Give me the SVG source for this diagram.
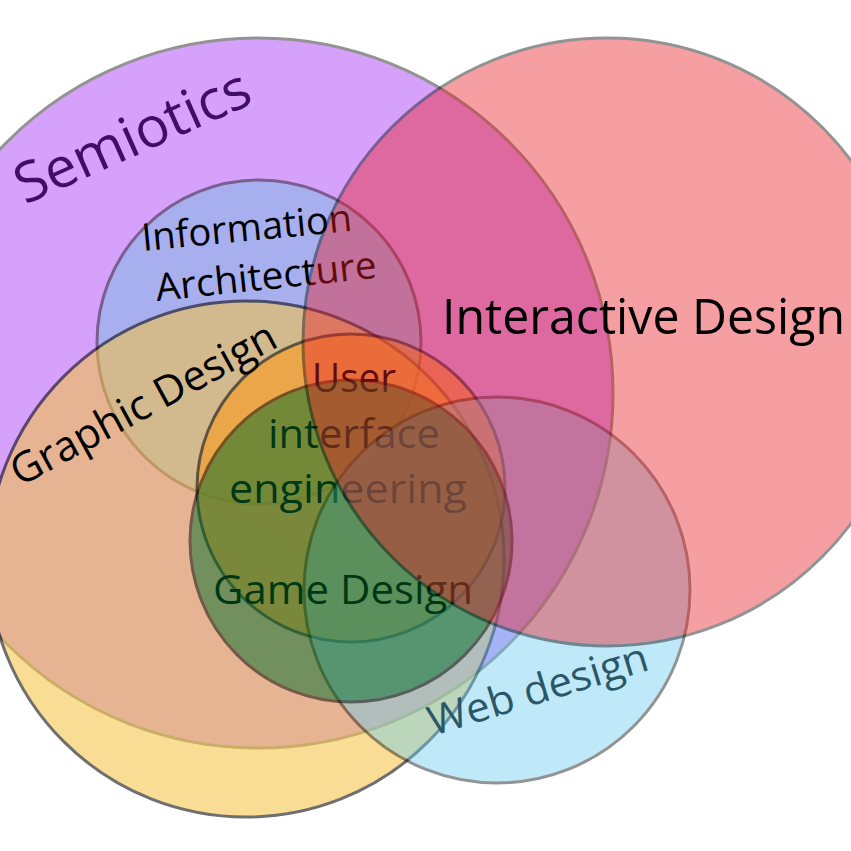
<svg xmlns="http://www.w3.org/2000/svg" width="851" height="851" viewBox="0 0 851 851">
<style>
.sh{stroke:#000;stroke-width:3}
.lbl{font-family:'Open Sans','Noto Sans','DejaVu Sans',sans-serif;fill:#000}
</style>
<rect x="0" y="0" width="851" height="851" fill="#fff"/>
<g id="semiotics">
<text class="lbl" font-size="56" transform="translate(25,205) rotate(-24)" textLength="252" lengthAdjust="spacingAndGlyphs">Semiotics</text>
<circle class="sh" cx="258" cy="393" r="355" fill="#9d21f5" opacity="0.42"/>
</g>
<g id="information-architecture">
<circle class="sh" cx="259" cy="342" r="162" fill="#69c3e1" opacity="0.42"/>
<text class="lbl" font-size="38" transform="translate(143,251) rotate(-5.5)" textLength="211" lengthAdjust="spacingAndGlyphs">Information</text>
<text class="lbl" font-size="38" transform="translate(157,301) rotate(-6)" textLength="222" lengthAdjust="spacingAndGlyphs">Architecture</text>
</g>
<g id="graphic-design">
<circle class="sh" cx="246" cy="559" r="258" fill="#f6c444" opacity="0.56"/>
<text class="lbl" font-size="42" transform="translate(20,487) rotate(-28.5)" textLength="296" lengthAdjust="spacingAndGlyphs">Graphic Design</text>
</g>
<g id="ui-engineering">
<circle class="sh" cx="351" cy="488" r="154" fill="#ff9614" opacity="0.55"/>
<text class="lbl" font-size="41" x="312" y="392" textLength="84" lengthAdjust="spacingAndGlyphs">User</text>
<text class="lbl" font-size="41" x="268" y="448" textLength="172" lengthAdjust="spacingAndGlyphs">interface</text>
<text class="lbl" font-size="41" x="229" y="503" textLength="238" lengthAdjust="spacingAndGlyphs">engineering</text>
</g>
<g id="web-design">
<text class="lbl" font-size="41" transform="translate(433,736) rotate(-17)" textLength="228" lengthAdjust="spacingAndGlyphs">Web design</text>
<circle class="sh" cx="497" cy="590" r="193" fill="#69cdf3" opacity="0.42"/>
</g>
<g id="game-design">
<text class="lbl" font-size="41" x="213" y="604" textLength="260" lengthAdjust="spacingAndGlyphs">Game Design</text>
<circle class="sh" cx="351" cy="541" r="161" fill="#006e28" opacity="0.5"/>
</g>
<g id="interactive-design">
<circle class="sh" cx="607" cy="342" r="304" fill="#e91d26" opacity="0.42"/>
<text class="lbl" font-size="50" x="442" y="334" textLength="403" lengthAdjust="spacingAndGlyphs">Interactive Design</text>
</g>
<g id="connectors"/>
</svg>
